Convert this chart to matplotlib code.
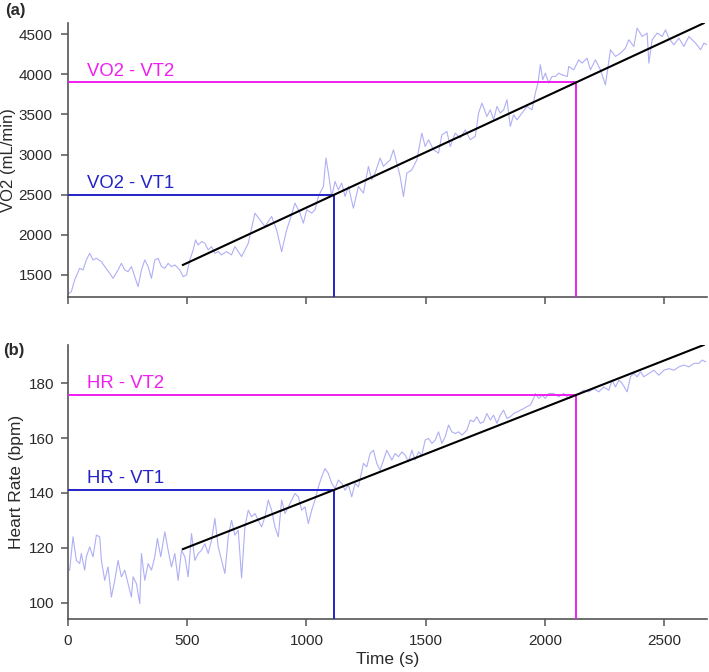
import matplotlib
matplotlib.use("Agg")
import matplotlib.pyplot as plt
import numpy as np

plt.rcParams['font.family'] = ['Liberation Sans', 'DejaVu Sans']

# ---------------- data ----------------
vo2_t = [0, 14, 28, 49, 63, 77, 91, 105, 119, 140, 154, 175, 189, 210, 224, 238, 252, 266, 280, 294,
         308, 322, 336, 350, 364, 378, 392, 406, 420, 434, 448, 469, 483, 497, 511, 525, 535, 546, 560,
         574, 588, 602, 616, 630, 644, 665, 686, 700, 728, 756, 784, 805, 826, 854, 875, 896, 917, 931,
         952, 973, 987, 1001, 1022, 1036, 1050, 1071, 1082, 1092, 1106, 1120, 1134, 1148, 1162, 1176,
         1197, 1218, 1239, 1260, 1274, 1288, 1309, 1323, 1337, 1351, 1365, 1379, 1393, 1407, 1421, 1442,
         1463, 1484, 1498, 1512, 1533, 1554, 1568, 1589, 1603, 1624, 1645, 1666, 1687, 1708, 1722, 1736,
         1757, 1771, 1785, 1799, 1813, 1827, 1841, 1855, 1869, 1883, 1904, 1925, 1946, 1960, 1971, 1981,
         1991, 2002, 2016, 2030, 2044, 2058, 2072, 2094, 2100, 2121, 2142, 2156, 2177, 2191, 2212, 2233,
         2254, 2275, 2296, 2317, 2338, 2352, 2373, 2387, 2408, 2429, 2436, 2450, 2471, 2492, 2506, 2520,
         2541, 2562, 2583, 2604, 2632, 2653, 2667, 2680]
vo2_v = [1260, 1292, 1438, 1583, 1562, 1687, 1770, 1687, 1708, 1666, 1604, 1521, 1458, 1562, 1645, 1562,
         1541, 1604, 1479, 1354, 1562, 1687, 1604, 1458, 1687, 1708, 1604, 1583, 1645, 1604, 1625, 1562,
         1479, 1500, 1687, 1812, 1937, 1874, 1916, 1895, 1812, 1853, 1770, 1791, 1750, 1791, 1750, 1854,
         1729, 1895, 2270, 2187, 2104, 2229, 2062, 1790, 2062, 2187, 2395, 2270, 2145, 2312, 2270, 2312,
         2478, 2603, 2957, 2770, 2478, 2665, 2561, 2645, 2478, 2603, 2332, 2603, 2520, 2853, 2686, 2770,
         2957, 2853, 2895, 2934, 3060, 2893, 2727, 2477, 2768, 2810, 2934, 3267, 3101, 3185, 3060, 3018,
         3246, 3288, 3101, 3267, 3205, 3309, 3185, 3226, 3517, 3642, 3475, 3558, 3434, 3600, 3517, 3558,
         3683, 3351, 3497, 3434, 3517, 3600, 3558, 3766, 3891, 4120, 3933, 4016, 3891, 3974, 3973, 4015,
         3994, 3973, 4098, 4056, 4181, 4140, 4202, 4056, 4181, 4056, 3869, 4306, 4223, 4264, 4327, 4431,
         4347, 4576, 4472, 4514, 4140, 4431, 4514, 4472, 4555, 4451, 4368, 4451, 4347, 4472, 4389, 4306,
         4389, 4370]

hr_t = [0, 7, 21, 35, 49, 56, 70, 77, 91, 105, 119, 133, 140, 154, 168, 182, 196, 210, 224, 238, 252,
        266, 273, 287, 301, 308, 322, 336, 350, 364, 375, 389, 406, 420, 434, 448, 462, 476, 490, 504,
        518, 532, 546, 560, 574, 588, 602, 616, 630, 644, 658, 672, 686, 700, 714, 728, 742, 756, 770,
        784, 798, 812, 826, 840, 854, 868, 882, 896, 910, 924, 938, 952, 966, 980, 994, 1008, 1022, 1036,
        1050, 1064, 1078, 1092, 1106, 1120, 1134, 1148, 1162, 1176, 1190, 1204, 1218, 1239, 1253, 1267,
        1281, 1295, 1309, 1323, 1337, 1358, 1372, 1386, 1400, 1414, 1428, 1442, 1456, 1470, 1484, 1498,
        1512, 1526, 1540, 1554, 1568, 1582, 1596, 1610, 1624, 1638, 1652, 1673, 1687, 1701, 1715, 1729,
        1743, 1757, 1771, 1785, 1799, 1813, 1827, 1841, 1855, 1869, 1883, 1897, 1911, 1925, 1939, 1953,
        1960, 1974, 1988, 2002, 2016, 2037, 2058, 2079, 2100, 2121, 2142, 2163, 2184, 2205, 2226, 2247,
        2268, 2282, 2296, 2310, 2324, 2345, 2359, 2373, 2387, 2401, 2415, 2436, 2457, 2478, 2499, 2520,
        2541, 2562, 2583, 2604, 2625, 2646, 2660, 2674]
hr_v = [112, 111.8, 124, 115.4, 114.2, 117.9, 111.8, 116.7, 120.3, 116.7, 124.6, 124, 115.4, 108.1, 113,
        102, 108.1, 115.4, 109.4, 111.8, 106.9, 102, 109.4, 106.9, 99.6, 117.9, 108.1, 114.2, 111.8,
        116.7, 123.4, 116.7, 125.8, 119.1, 113, 117.9, 108.1, 119.1, 116.7, 109.4, 125.2, 115.4, 117.9,
        119.1, 121.5, 117.9, 122.8, 130.7, 120.3, 115.4, 110.6, 124, 130, 124.6, 126.4, 109, 127.6,
        133.7, 131.3, 132.5, 130, 127.6, 131.3, 137.4, 133.7, 127.6, 124, 137.4, 132.5, 134.9, 137.4,
        139.8, 138.6, 133.7, 134.9, 128.8, 133.7, 137.4, 142.2, 145.9, 148.9, 147.1, 143.5, 141.6, 144.7,
        143.5, 141, 142.9, 138.6, 143.5, 142.2, 150.8, 149.5, 154.4, 155.6, 150.8, 148.3, 152, 155.6, 152,
        154.4, 153.2, 155, 153.8, 151.4, 155.6, 152, 155, 153.8, 159.3, 159.9, 158.1, 159.3, 162.3, 158.1,
        160.5, 164.8, 162.3, 161.7, 162.3, 161.1, 162.9, 166.6, 166, 167.8, 165.4, 166, 169, 166.6, 168.4,
        165.4, 168.4, 170.2, 167.2, 167.8, 169, 169.6, 170.2, 170.8, 171.5, 172.1, 174.5, 176.3, 174.5,
        175.7, 174.5, 176.3, 176.3, 175.1, 176.3, 174.5, 175.7, 176.3, 177.5, 176.9, 178.1, 176.9, 178.7,
        177.5, 181.2, 178.7, 181.2, 180, 176.9, 182.4, 183.6, 182.4, 184.2, 182.4, 183.6, 184.8, 183,
        184.8, 185.4, 184.8, 186, 186.7, 186, 187.3, 187.3, 188.5, 187.9]

fit_t = [482, 2666]
fit_vo2 = [1625, 4637]
fit_hr = [119.5, 194.0]

vt_t = [1117, 2132]
vt_vo2 = [2500, 3900]
vt_hr = [141.2, 175.8]
vo2_labels = ["VO2 - VT1", "VO2 - VT2"]
hr_labels = ["HR - VT1", "HR - VT2"]

# ---------------- style ----------------
trace_col = (0.58, 0.58, 0.95)
vt_cols = ['#2323c8', '#f01ef0']
spine_col = '#555555'
text_col = '#2a2a2a'

fig = plt.figure(figsize=(7.09, 6.72), dpi=100)
ax1 = fig.add_axes([0.0959, 0.558, 0.9013, 0.4078])
ax2 = fig.add_axes([0.0959, 0.0789, 0.9013, 0.4077])


def style(ax, ypad):
    for s in ['top', 'right']:
        ax.spines[s].set_visible(False)
    for s in ['left', 'bottom']:
        ax.spines[s].set_color(spine_col)
        ax.spines[s].set_linewidth(1.2)
    ax.tick_params(direction='out', length=5, width=1.1, colors=spine_col,
                   labelcolor=text_col, labelsize=11)
    ax.tick_params(axis='y', pad=ypad)
    ax.tick_params(axis='x', pad=6)
    ax.set_xlim(0, 2680)
    ax.set_xticks([0, 500, 1000, 1500, 2000, 2500])


def panel(ax, t, v, ft, fv, vvals, labels, ylim):
    ax.set_ylim(*ylim)
    ax.plot(t, v, color=trace_col, lw=0.8, alpha=0.75, zorder=2)
    for i in range(2):
        ax.plot([0, vt_t[i]], [vvals[i], vvals[i]], color=vt_cols[i], lw=1.4, zorder=3)
        ax.plot([vt_t[i], vt_t[i]], [ylim[0], vvals[i]], color=vt_cols[i], lw=1.4, zorder=3)
        ax.annotate(labels[i], xy=(80, vvals[i]), xytext=(0, 2), textcoords='offset points',
                    color=vt_cols[i], fontsize=13.3, ha='left', va='bottom')
    ax.plot(ft, fv, color='black', lw=1.5, zorder=4)


style(ax1, 6)
style(ax2, 4.5)
panel(ax1, vo2_t, vo2_v, fit_t, fit_vo2, vt_vo2, vo2_labels, (1225, 4640))
panel(ax2, hr_t, hr_v, fit_t, fit_hr, vt_hr, hr_labels, (94, 194))

ax1.set_yticks([1500, 2000, 2500, 3000, 3500, 4000, 4500])
ax1.set_xticklabels([])
ax2.set_yticks([100, 120, 140, 160, 180])

ax1.set_ylabel('VO2 (mL/min)', fontsize=12, color=text_col, labelpad=2)
ax2.set_ylabel('Heart Rate (bpm)', fontsize=12.5, color=text_col, labelpad=4)
ax2.set_xlabel('Time (s)', fontsize=12.5, color=text_col, labelpad=3)

fig.text(0.007, 0.984, '(a)', fontsize=12, fontweight='bold', color=text_col, va='center')
fig.text(0.004, 0.479, '(b)', fontsize=12, fontweight='bold', color=text_col, va='center')

fig.savefig('out.png', dpi=100)
